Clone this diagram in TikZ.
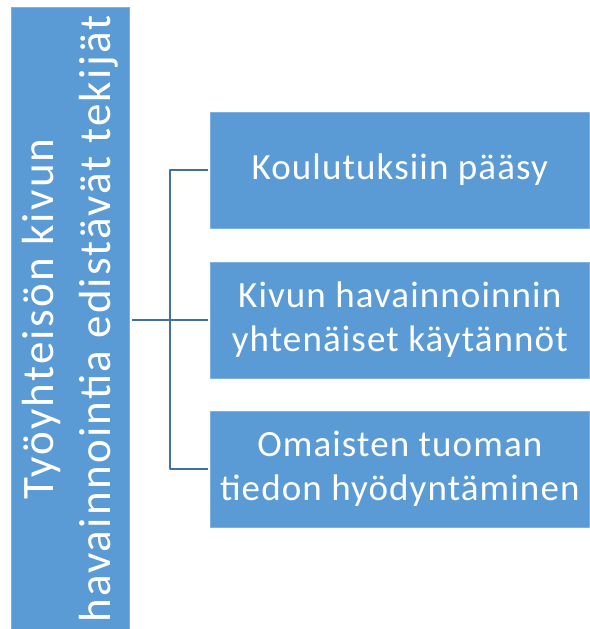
\documentclass[tikz,border=0pt]{standalone}
\usepackage{fontspec}
\setmainfont{Carlito}
\newfontfamily\boxfont[LetterSpace=3]{Carlito}
\newfontfamily\topicfont[LetterSpace=5]{Carlito}
\usetikzlibrary{positioning}
\definecolor{boxblue}{HTML}{5B9BD5}
\definecolor{boxedge}{HTML}{7FB0E0}
\definecolor{linkblue}{HTML}{41719C}

\begin{document}
\begin{tikzpicture}[x=1pt,y=-1pt,line cap=round,line join=round,
  box/.style={draw=boxedge,line width=.6pt,fill=boxblue,text=white,align=center,
    inner sep=0pt,font=\boxfont\fontsize{37}{44}\selectfont},
  link/.style={draw=linkblue,line width=2pt,line cap=butt,shorten <=2.5pt,shorten >=2.5pt}]
\path[use as bounding box] (0,0) rectangle (589,629);
\node[box,minimum width=118,minimum height=624] (topic) at (70,319) {};
\node[rotate=90,text=white,align=center,inner sep=0pt,font=\topicfont\fontsize{45}{57}\selectfont] (topictext) at (topic.center) {Työyhteisön kivun\\havainnointia edistävät tekijät};
\node[box,anchor=west,minimum width=379,minimum height=116] (koul) at (210,170) {Koulutuksiin pääsy};
\node[box,anchor=west,minimum width=379,minimum height=116] (kaytan) at (210,320) {Kivun havainnoinnin\\yhtenäiset käytännöt};
\node[box,anchor=west,minimum width=379,minimum height=116] (omais) at (210,469) {Omaisten tuoman\\tiedon hyödyntäminen};
\coordinate[left=40pt of kaytan.west] (fork);
\draw[link] (topic.east |- kaytan.west) -- (kaytan.west);
\draw[link] (koul.west) -| (fork) |- (omais.west);
\end{tikzpicture}
\end{document}
